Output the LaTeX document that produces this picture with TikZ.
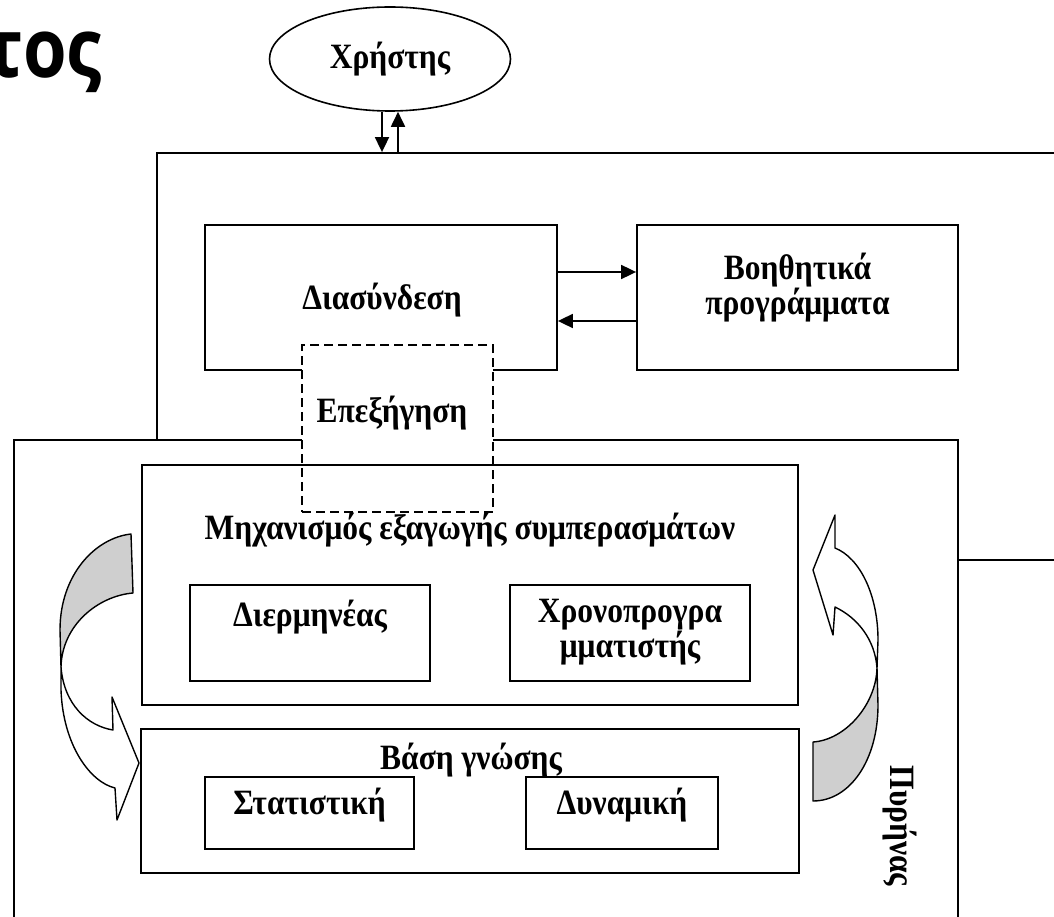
\documentclass[tikz,border=0pt]{standalone}
\usepackage{fontspec}
\usepackage{graphicx}
\setmainfont{Liberation Serif}
\newfontfamily\titlefont{Open Sans}
\newcommand{\tallt}[1]{\scalebox{1}[1.13]{#1}}
\usetikzlibrary{shapes.geometric,arrows.meta}
\begin{document}
\begin{tikzpicture}[x=1pt,y=-1pt,
  box/.style={draw,line width=1.8pt,rectangle,inner sep=0pt},
  txt/.style={font=\fontsize{31.5}{35}\selectfont\bfseries,inner sep=0pt,align=center},
  arr/.style={line width=1.8pt,-{Triangle[length=15pt,width=14pt]}},
  bendarrow/.style={line width=1.4pt,line join=round},
  shade/.style={fill=black!19}
]
\useasboundingbox (0,0) rectangle (1054,917);

% title fragment
\node[anchor=base east,inner sep=0pt,font=\titlefont\fontsize{82}{82}\selectfont\bfseries] (title) at (102,78) {\scalebox{0.86}[1]{τος}};

% upper frame
\node[box,minimum width=963pt,minimum height=407pt] (upper) at (638.5,356.5) {};

% interface and helper programs
\node[box,minimum width=352pt,minimum height=145pt] (dia) at (381,297.5) {};
\node[txt] (diat) at (382,300) {\tallt{Διασύνδεση}};
\node[box,minimum width=321pt,minimum height=145pt] (boh) at (797.5,297.5) {};
\node[txt] (boht) at (797.5,288) {\tallt{Βοηθητικά}\\\tallt{προγράμματα}};
\coordinate (a1) at (0,272);
\coordinate (a2) at (0,321);
\draw[arr] (dia.east |- a1) -- (boh.west |- a1);
\draw[arr] (boh.west |- a2) -- (dia.east |- a2);

% user
\node[draw,line width=1.6pt,ellipse,minimum width=241pt,minimum height=104pt,inner sep=0pt,font=\fontsize{31.5}{35}\selectfont\bfseries] (user) at (390,59) {\tallt{Χρήστης}};
\coordinate (u1) at ([xshift=-8pt]user.south);
\coordinate (u2) at ([xshift=8pt]user.south);
\draw[arr] (u1) -- (u1 |- upper.north);
\draw[arr] (u2 |- upper.north) -- (u2);

% lower frame (core)
\node[box,fill=white,minimum width=944pt,minimum height=560pt] (lower) at (486,720) {};

% explanation (dashed)
\node[box,fill=white,dash pattern=on 9pt off 5pt,minimum width=191pt,minimum height=167pt] (epe) at (397.5,428.5) {};
\node[txt] (epet) at (392,413) {\tallt{Επεξήγηση}};

% inference engine
\node[box,minimum width=656pt,minimum height=240pt] (mech) at (470,585) {};
\node[txt] (mecht) at (470,530) {\tallt{Μηχανισμός εξαγωγής συμπερασμάτων}};
\node[box,minimum width=240pt,minimum height=96pt] (dier) at (310,633) {};
\node[txt] (diert) at (310,617) {\tallt{Διερμηνέας}};
\node[box,minimum width=240pt,minimum height=96pt] (xron) at (630,633) {};
\node[txt] (xront) at (630,632) {\tallt{Χρονοπρογρα}\\\tallt{μματιστής}};

% knowledge base
\node[box,minimum width=658pt,minimum height=144pt] (vasi) at (470,801) {};
\node[box,minimum width=209pt,minimum height=72pt] (stat) at (309.5,813) {};
\node[box,minimum width=192pt,minimum height=72pt] (dyn) at (622,813) {};
\node[txt] (vasit) at (471,760) {\tallt{Βάση γνώσης}};
\node[txt] (statt) at (309.5,805) {\tallt{Στατιστική}};
\node[txt] (dynt) at (622,805) {\tallt{Δυναμική}};

% left curved arrow
\draw[bendarrow,shade] (131,534) .. controls (95,538) and (60,575) .. (60,630) -- (61,667)
  .. controls (62,625) and (98,596) .. (133,593) -- cycle;
\draw[bendarrow,fill=white] (61,667) -- (61,690) .. controls (63,745) and (90,782) .. (115,788)
  -- (117,820) -- (139,763) -- (112,697) -- (113,730)
  .. controls (88,726) and (64,705) .. (61,667) -- cycle;

% right curved arrow
\draw[bendarrow,shade] (813,801) .. controls (850,801) and (878,760) .. (878,705) -- (877,668)
  .. controls (876,705) and (845,740) .. (813,742) -- cycle;
\draw[bendarrow,fill=white] (877,668) -- (878,640) .. controls (878,595) and (860,558) .. (835,548)
  -- (835,515) -- (813,570) -- (833,635) -- (835,607)
  .. controls (858,618) and (875,640) .. (877,668) -- cycle;

% core label
\node[txt,rotate=-90] (pyr) at (900,826) {\tallt{Πυρήνας}};
\end{tikzpicture}
\end{document}
